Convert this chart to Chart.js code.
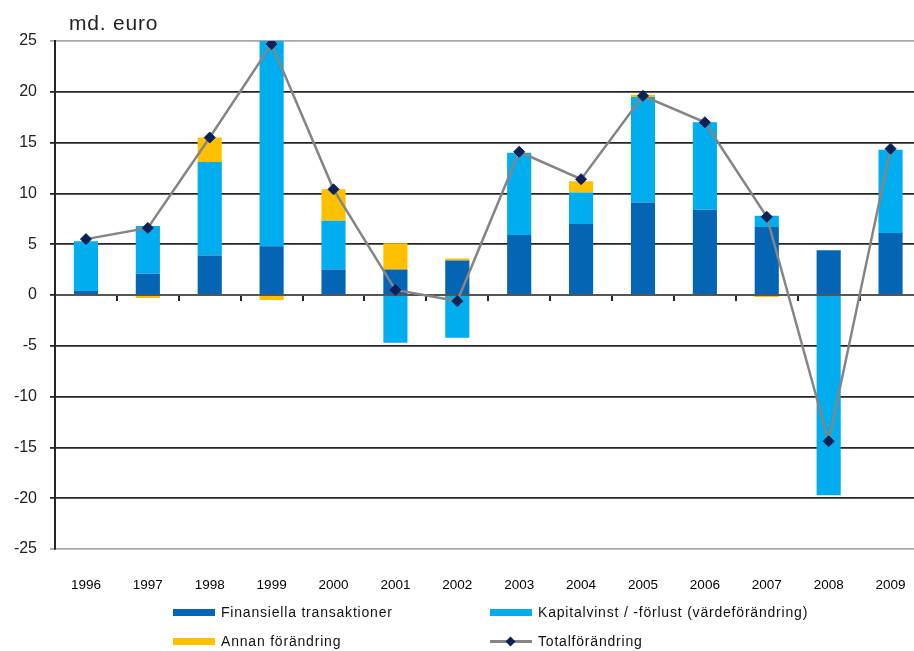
<!DOCTYPE html>
<html>
<head>
<meta charset="utf-8">
<script src="https://cdn.jsdelivr.net/npm/chart.js@4.4.0/dist/chart.umd.min.js"></script>
<style>
  html, body { margin: 0; padding: 0; background: #fff; overflow: hidden; width: 914px; height: 651px; }
  #wrap { position: absolute; left: 0; top: 0; width: 928px; height: 651px; }
  #unit { position: absolute; left: 69px; top: 12px; font: 21px "Liberation Sans", Arial, sans-serif; letter-spacing: 0.8px; color: #222; line-height: 21px; white-space: nowrap; }
  .lg { position: absolute; font: 14px "Liberation Sans", Arial, sans-serif; letter-spacing: 0.8px; color: #111; line-height: 16px; white-space: nowrap; }
  .box { position: absolute; height: 7px; width: 42px; }
</style>
</head>
<body>
<div id="wrap"><canvas id="c" width="928" height="651"></canvas></div>
<div id="unit">md. euro</div>
<div id="legend"></div>
<script>
// ---- Data ----
const years = ["1996","1997","1998","1999","2000","2001","2002","2003","2004","2005","2006","2007","2008","2009"];
const finansiella = [0.4, 2.1, 3.9, 4.8, 2.5, 2.5, 3.4, 5.9, 7.0, 9.1, 8.4, 6.7, 4.4, 6.1];
const kapitalvinst = [4.9, 4.7, 9.2, 20.3, 4.8, -4.7, -4.2, 8.1, 3.1, 10.4, 8.6, 1.1, -19.7, 8.2];
const annan = [0.0, -0.3, 2.4, -0.5, 3.1, 2.6, 0.2, 0.0, 1.1, 0.2, 0.0, -0.2, 0.0, 0.0];
const total = [5.5, 6.6, 15.5, 24.7, 10.4, 0.5, -0.6, 14.1, 11.4, 19.6, 17.0, 7.7, -14.4, 14.4];
const yTicks = [25, 20, 15, 10, 5, 0, -5, -10, -15, -20, -25];
const seriesNames = ["Finansiella transaktioner", "Kapitalvinst / -förlust (värdeförändring)", "Annan förändring", "Totalförändring"];

const C_FIN = '#0565b5';
const C_KAP = '#00adef';
const C_ANN = '#ffc000';
const C_LINE = '#858585';
const C_MARK = '#0c2156';

const FONT = "'Liberation Sans', Arial, sans-serif";

const gridColor = (ctx) => {
  const v = ctx.tick && ctx.tick.value;
  if (v === 25 || v === -25) return '#a8a8a8';
  return '#262626';
};

new Chart(document.getElementById('c'), {
  type: 'bar',
  data: {
    labels: years,
    datasets: [
      { label: seriesNames[0], data: finansiella, backgroundColor: C_FIN, stack: 's', order: 1, barPercentage: 0.39, categoryPercentage: 1 },
      { label: seriesNames[1], data: kapitalvinst, backgroundColor: C_KAP, stack: 's', order: 1, barPercentage: 0.39, categoryPercentage: 1 },
      { label: seriesNames[2], data: annan, backgroundColor: C_ANN, stack: 's', order: 1, barPercentage: 0.39, categoryPercentage: 1 },
      { type: 'line', label: seriesNames[3], data: total, stack: 't', order: 0,
        borderColor: C_LINE, borderWidth: 2.5, tension: 0,
        pointStyle: 'rectRot', pointRadius: 5.5, pointBackgroundColor: C_MARK, pointBorderColor: C_MARK, pointBorderWidth: 1 }
    ]
  },
  options: {
    responsive: false,
    animation: false,
    devicePixelRatio: 1,
    layout: { padding: { top: 41, left: 0, right: 1, bottom: 0 } },
    plugins: { legend: { display: false }, tooltip: { enabled: false }, title: { display: false } },
    scales: {
      x: {
        stacked: true,
        position: 'bottom',
        grid: { display: false },
        border: { display: false },
        ticks: { font: { family: FONT, size: 13.5 }, color: '#000', padding: 20, maxRotation: 0, autoSkip: false },
        afterFit: (s) => { s.height = 102; }
      },
      x2: {
        type: 'category',
        labels: years,
        position: { y: 0 },
        offset: true,
        grid: { offset: true, drawOnChartArea: false, drawTicks: true, tickLength: 5, color: '#262626', lineWidth: 2 },
        border: { display: true, color: '#555', width: 2 },
        ticks: { display: false }
      },
      y: {
        stacked: true,
        min: -25, max: 25,
        afterBuildTicks: (s) => { s.ticks = yTicks.map(v => ({ value: v })); },
        grid: { color: gridColor, lineWidth: 1.8, tickLength: 5 },
        border: { display: true, color: '#262626', width: 2 },
        ticks: { font: { family: FONT, size: 16 }, color: '#222', padding: 13 },
        afterFit: (s) => { s.width = 55; }
      }
    }
  }
});

// ---- HTML legend ----
const lg = document.getElementById('legend');
const items = [
  { name: seriesNames[0], color: C_FIN, x: 173, y: 612, type: 'box' },
  { name: seriesNames[1], color: C_KAP, x: 490, y: 612, type: 'box' },
  { name: seriesNames[2], color: C_ANN, x: 173, y: 641, type: 'box' },
  { name: seriesNames[3], color: C_LINE, x: 490, y: 641, type: 'line' }
];
items.forEach(it => {
  if (it.type === 'box') {
    const b = document.createElement('div');
    b.className = 'box';
    b.style.left = it.x + 'px';
    b.style.top = (it.y - 3) + 'px';
    b.style.background = it.color;
    lg.appendChild(b);
  } else {
    const l = document.createElement('div');
    l.style.cssText = `position:absolute;left:${it.x}px;top:${it.y - 1}px;width:42px;height:2.5px;background:${it.color}`;
    lg.appendChild(l);
    const m = document.createElement('div');
    m.style.cssText = `position:absolute;left:${it.x + 17}px;top:${it.y - 3.5}px;width:7px;height:7px;background:${C_MARK};transform:rotate(45deg)`;
    lg.appendChild(m);
  }
  const t = document.createElement('div');
  t.className = 'lg';
  t.textContent = it.name;
  t.style.left = (it.x + 48) + 'px';
  t.style.top = (it.y - 8) + 'px';
  lg.appendChild(t);
});
</script>
</body>
</html>
